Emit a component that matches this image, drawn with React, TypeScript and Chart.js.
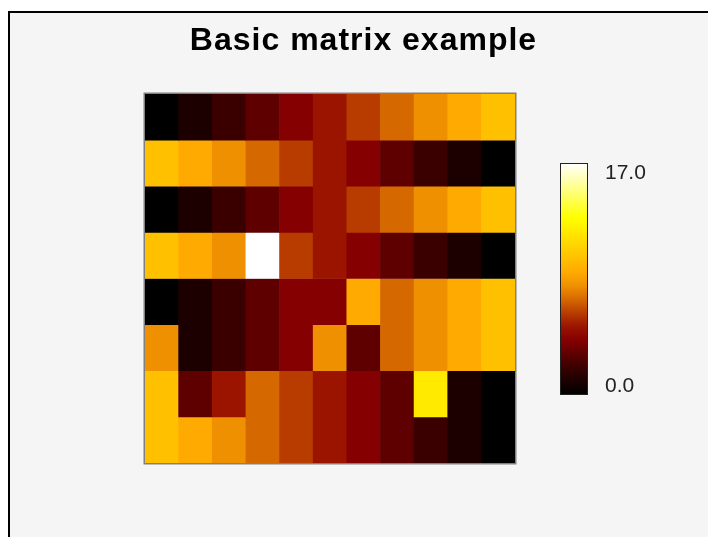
import React, { useEffect, useRef } from "react";
import { Chart, registerables } from "chart.js";

Chart.register(...registerables);

// ---- data ----
const chartTitle = "Basic matrix example";
const columnLabels = ["1", "2", "3", "4", "5", "6", "7", "8", "9", "10", "11"];
const row0 = [0, 1, 2, 3, 4, 5, 6, 7, 8, 9, 10];
const row1 = [10, 9, 8, 7, 6, 5, 4, 3, 2, 1, 0];
const row2 = [0, 1, 2, 3, 4, 5, 6, 7, 8, 9, 10];
const row3 = [10, 9, 8, 17, 6, 5, 4, 3, 2, 1, 0];
const row4 = [0, 1, 2, 3, 4, 4, 9, 7, 8, 9, 10];
const row5 = [8, 1, 2, 3, 4, 8, 3, 7, 8, 9, 10];
const row6 = [10, 3, 5, 7, 6, 5, 4, 3, 12, 1, 0];
const row7 = [10, 9, 8, 7, 6, 5, 4, 3, 2, 1, 0];
const matrix = [row0, row1, row2, row3, row4, row5, row6, row7];

const colorMin = 0;
const colorMax = 17;
const colorbarTicks = [0, 17];

// colour scale (palette)
const paletteValues = [0, 1, 2, 3, 4, 5, 6, 7, 8, 9, 10, 13, 17];
const paletteColors = [
  "#000000", "#1c0000", "#3a0000", "#5e0000", "#850000", "#9a1400",
  "#b83c00", "#d66800", "#ef9000", "#ffaa00", "#ffc000", "#ffff00", "#ffffff",
];

function hexToRgb(h: string) {
  const n = parseInt(h.slice(1), 16);
  return [(n >> 16) & 255, (n >> 8) & 255, n & 255];
}

function colorFor(v: number): string {
  if (v <= paletteValues[0]) return paletteColors[0];
  for (let i = 1; i < paletteValues.length; i++) {
    if (v <= paletteValues[i]) {
      const t = (v - paletteValues[i - 1]) / (paletteValues[i] - paletteValues[i - 1]);
      const a = hexToRgb(paletteColors[i - 1]);
      const b = hexToRgb(paletteColors[i]);
      const c = a.map((x, k) => Math.round(x + (b[k] - x) * t));
      return `rgb(${c[0]},${c[1]},${c[2]})`;
    }
  }
  return paletteColors[paletteColors.length - 1];
}

const letterSpacingPlugin = {
  id: "titleSpacing",
  beforeDraw(chart: any) {
    chart.ctx.letterSpacing = "1px";
  },
  afterDraw(chart: any) {
    chart.ctx.letterSpacing = "0px";
  },
};

const framePlugin = {
  id: "matrixFrame",
  afterDatasetsDraw(chart: any) {
    const { ctx, chartArea: a } = chart;
    ctx.save();
    ctx.strokeStyle = "#808080";
    ctx.lineWidth = 1.5;
    ctx.strokeRect(a.left - 0.75, a.top - 0.75, a.width + 1.5, a.height + 1.5);
    ctx.restore();
  },
};

export default function App() {
  const mainRef = useRef<HTMLCanvasElement>(null);
  const barRef = useRef<HTMLCanvasElement>(null);

  useEffect(() => {
    const main = new Chart(mainRef.current as HTMLCanvasElement, {
      type: "bar",
      data: {
        labels: columnLabels,
        datasets: matrix.map((row, r) => ({
          label: "row " + (r + 1),
          data: row.map(() => [r, r + 1]) as any,
          backgroundColor: row.map(colorFor),
          borderWidth: 0,
          barPercentage: 1,
          categoryPercentage: 1,
          grouped: false,
        })),
      },
      options: {
        responsive: false,
        animation: false,
        layout: { padding: { left: 145, right: 126, top: 0, bottom: 74 } },
        plugins: {
          legend: { display: false },
          tooltip: { enabled: false },
          title: {
            display: true,
            text: chartTitle,
            color: "#000",
            font: { family: "'Liberation Sans', Arial, sans-serif", size: 32, weight: "bold" },
            padding: { top: 22, bottom: 33.6 },
          },
        },
        scales: {
          x: { type: "category", display: false },
          y: { type: "linear", display: false, min: 0, max: matrix.length, reverse: true },
          side: {
            type: "linear",
            position: "right",
            display: true,
            grid: { display: false, drawTicks: false },
            ticks: { display: false },
            border: { display: false },
            afterFit: (s: any) => {
              s.width = 67;
            },
          } as any,
        },
      },
      plugins: [letterSpacingPlugin, framePlugin],
    });

    const bar = new Chart(barRef.current as HTMLCanvasElement, {
      type: "bar",
      data: {
        labels: ["scale"],
        datasets: [
          {
            data: [[colorMin, colorMax]] as any,
            backgroundColor: (ctx: any) => {
              const chart = ctx.chart;
              if (!chart.chartArea) return "#000";
              const s = chart.scales.yBar;
              const g = chart.ctx.createLinearGradient(
                0, s.getPixelForValue(colorMin), 0, s.getPixelForValue(colorMax)
              );
              paletteValues.forEach((v, i) =>
                g.addColorStop((v - colorMin) / (colorMax - colorMin), paletteColors[i])
              );
              return g;
            },
            borderColor: "#222",
            borderWidth: 1,
            borderSkipped: false,
            inflateAmount: 0,
            barPercentage: 1,
            categoryPercentage: 1,
            yAxisID: "yBar",
          } as any,
        ],
      },
      options: {
        responsive: false,
        animation: false,
        layout: { padding: { left: 20, top: 23, bottom: 25, right: 0 } },
        plugins: {
          legend: { display: false },
          tooltip: { enabled: false },
          title: { display: false },
        },
        scales: {
          x: { display: false },
          yBar: { type: "linear", display: false, min: colorMin, max: colorMax },
          yLbl: {
            type: "linear",
            position: "right",
            min: -0.678,
            max: 17.838,
            afterBuildTicks: (s: any) => {
              s.ticks = colorbarTicks.map((v) => ({ value: v }));
            },
            ticks: {
              padding: 17,
              color: "#222",
              font: { family: "'Liberation Sans', Arial, sans-serif", size: 21 },
              callback: (v: any) => Number(v).toFixed(1),
            },
            grid: { display: false, drawTicks: false },
            border: { display: false },
            afterFit: (s: any) => {
              s.width = 112;
              s.paddingTop = 0;
              s.paddingBottom = 0;
            },
          } as any,
        },
      },
    });

    return () => {
      main.destroy();
      bar.destroy();
    };
  }, []);

  return (
    <div>
      <div
        style={{
          position: "fixed",
          left: 8,
          top: 11,
          width: 720,
          height: 540,
          borderLeft: "2px solid #000",
          borderTop: "2px solid #000",
          background: "#f5f5f5",
        }}
      />
      <canvas
        ref={mainRef}
        width={708}
        height={537}
        style={{ position: "fixed", left: 0, top: 0, width: 708, height: 537 }}
      />
      <canvas
        ref={barRef}
        width={160}
        height={280}
        style={{ position: "fixed", left: 540, top: 140, width: 160, height: 280 }}
      />
    </div>
  );
}
